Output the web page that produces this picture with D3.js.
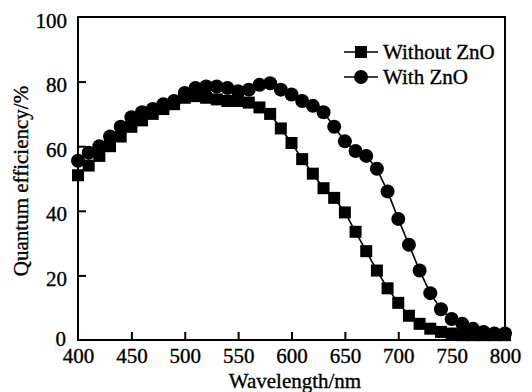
<!DOCTYPE html>
<html><head><meta charset="utf-8">
<script src="https://cdn.jsdelivr.net/npm/d3@7"></script>
<style>body{margin:0;background:#fff} svg text{font-family:"Liberation Serif","DejaVu Serif",serif}</style>
</head><body>
<svg id="c" width="532" height="392"></svg>
<script>
const wavelengths = [400,410,420,430,440,450,460,470,480,490,500,510,520,530,540,550,560,570,580,590,600,610,620,630,640,650,660,670,680,690,700,710,720,730,740,750,760,770,780,790,800];
const withoutZnO = [51,54,57,60,63,66,68,70,71.5,73,75,75.5,75,74.5,74,74,73.5,72,70,65.5,61,56,51.5,47,44,39.5,33.5,27.5,21.5,16,11.5,7.5,5,3.5,2.5,2,1.5,1.5,1.5,1.5,1.5];
const withZnO = [55.5,58,60,63,66,69,70.5,71.5,73,74,76.5,78,78.5,78.5,78,77,77.5,79,79.5,77.5,76,74,72.5,70.5,66,61.5,58.5,57,53,46,37.5,29.5,21.5,14.5,9.5,6.5,5,3.5,2.5,2,2];
const xTicks = [400,450,500,550,600,650,700,750,800];
const yTicks = [0,20,40,60,80,100];
const seriesNames = ["Without ZnO","With ZnO"];

const svg = d3.select("#c");
const L=78,T=17,R=505,B=340;
const x = d3.scaleLinear().domain([400,800]).range([L,R]);
const y = d3.scaleLinear().domain([0,100]).range([B,T]);
const font = '"Liberation Serif","DejaVu Serif",serif';
const FS = 21;

svg.append("rect").attr("x",L).attr("y",T).attr("width",R-L).attr("height",B-T)
  .attr("fill","none").attr("stroke","#000").attr("stroke-width",2);

const xAxis = svg.append("g").attr("transform",`translate(0,${B})`)
  .call(d3.axisBottom(x).tickValues(xTicks).tickSize(-8).tickPadding(23).tickFormat(d3.format("d")));
const yAxis = svg.append("g").attr("transform",`translate(${L},0)`)
  .call(d3.axisLeft(y).tickValues(yTicks).tickSize(-8).tickPadding(11).tickFormat(d3.format("d")));
[xAxis,yAxis].forEach(a=>{
  a.attr("font-family",null).attr("font-size",null);
  a.select(".domain").remove();
  a.selectAll(".tick line").attr("stroke","#000").attr("stroke-width",2);
  a.selectAll(".tick text").style("font-family",font).style("font-size",FS+"px").attr("fill","#000")
    .attr("stroke","#000").attr("stroke-width",0.35);
});
xAxis.selectAll(".tick text").attr("dy",0);
yAxis.selectAll(".tick text").attr("dy",10);
yAxis.selectAll(".tick").filter(d=>d===0).select("text").attr("dy",5).attr("x",-12);
yAxis.selectAll(".tick").filter(d=>d===0||d===100).select("line").remove();
xAxis.selectAll(".tick").filter(d=>d===400||d===800).select("line").remove();

svg.append("text").attr("x",295).attr("y",388).attr("text-anchor","middle")
  .style("font-family",font).style("font-size",FS+"px").attr("stroke","#000").attr("stroke-width",0.35).text("Wavelength/nm");
svg.append("text").attr("transform",`translate(28,181) rotate(-90)`).attr("text-anchor","middle")
  .style("font-family",font).style("font-size",FS+"px").attr("stroke","#000").attr("stroke-width",0.35).text("Quantum efficiency/%");

const line = d3.line().x((d,i)=>x(wavelengths[i])).y(d=>y(d));
const g = svg.append("g");
[withoutZnO, withZnO].forEach(vals=>{
  g.append("path").attr("d",line(vals)).attr("fill","none").attr("stroke","#000").attr("stroke-width",1.6);
});
const sq=12, cr=7;
g.selectAll(".sq").data(withoutZnO).join("rect")
  .attr("x",(d,i)=>x(wavelengths[i])-sq/2).attr("y",d=>y(d)-sq/2)
  .attr("width",sq).attr("height",sq).attr("fill","#000");
g.selectAll(".ci").data(withZnO).join("circle")
  .attr("cx",(d,i)=>x(wavelengths[i])).attr("cy",d=>y(d)).attr("r",cr).attr("fill","#000");

const lg = svg.append("g");
const ly=[52,77];
seriesNames.forEach((name,k)=>{
  lg.append("line").attr("x1",344).attr("x2",378).attr("y1",ly[k]).attr("y2",ly[k]).attr("stroke","#000").attr("stroke-width",1.6);
  if(k===0) lg.append("rect").attr("x",361-sq/2).attr("y",ly[k]-sq/2).attr("width",sq).attr("height",sq);
  else lg.append("circle").attr("cx",361).attr("cy",ly[k]).attr("r",cr);
  lg.append("text").attr("x",383).attr("y",ly[k]).attr("dy","0.35em")
    .style("font-family",font).style("font-size",FS+"px").attr("stroke","#000").attr("stroke-width",0.35).text(name);
});
</script>
</body></html>
